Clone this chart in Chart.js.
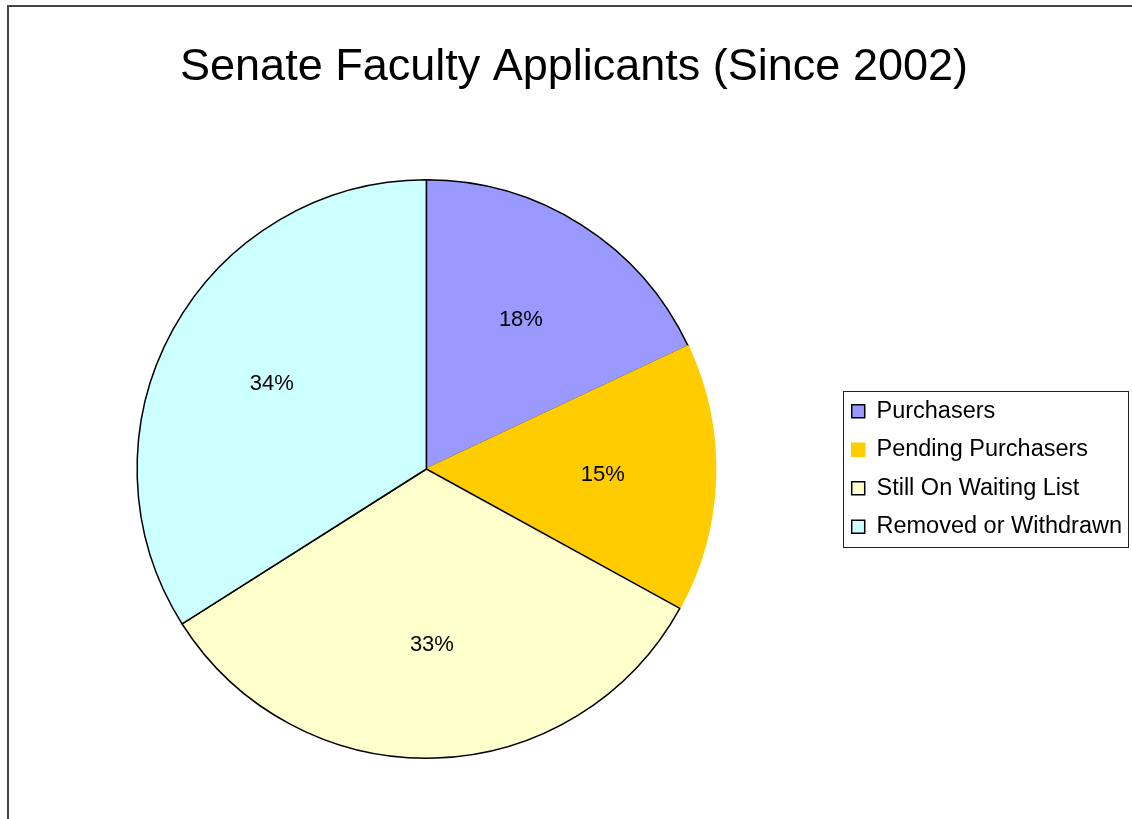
<!DOCTYPE html>
<html>
<head>
<meta charset="utf-8">
<title>Senate Faculty Applicants</title>
<script src="https://cdn.jsdelivr.net/npm/chart.js@4.4.1/dist/chart.umd.min.js"></script>
<style>
  html, body { margin: 0; padding: 0; background: #fff; }
  canvas { display: block; }
</style>
</head>
<body>
<canvas id="pieChart" width="1132" height="819"></canvas>
<script>
const categories = ['Purchasers', 'Pending Purchasers', 'Still On Waiting List', 'Removed or Withdrawn'];
const shares = [18, 15, 33, 34];
const sliceColors = ['#9999FF', '#FFCC00', '#FFFFCC', '#CCFFFF'];
// the pending slice is drawn without an outline
const sliceBorders = ['#000000', '#FFCC00', '#000000', '#000000'];

const FONT = '"Liberation Sans", Arial, sans-serif';

// thin frame along the top and left edge of the chart sheet
const sheetFrame = {
    id: 'sheetFrame',
    beforeDraw(chart) {
        const ctx = chart.ctx;
        ctx.save();
        ctx.strokeStyle = '#444';
        ctx.lineWidth = 2;
        ctx.beginPath();
        ctx.moveTo(8, chart.height);
        ctx.lineTo(8, 6);
        ctx.lineTo(chart.width, 6);
        ctx.stroke();
        ctx.restore();
    }
};

// box round the legend entries
const legendBox = {
    id: 'legendBox',
    afterDraw(chart) {
        const boxes = chart.legend.legendHitBoxes;
        if (!boxes || !boxes.length) return;
        let left = Infinity, top = Infinity, right = -Infinity, bottom = -Infinity;
        boxes.forEach(b => {
            left = Math.min(left, b.left);
            top = Math.min(top, b.top);
            right = Math.max(right, b.left + b.width);
            bottom = Math.max(bottom, b.top + b.height);
        });
        const ctx = chart.ctx;
        ctx.save();
        ctx.strokeStyle = '#222';
        ctx.lineWidth = 1;
        ctx.strokeRect(Math.round(left - 9) + 0.5, Math.round(top - 9) + 0.5,
            Math.round(right - left + 15), Math.round(bottom - top + 17));
        ctx.restore();
    }
};

// percentage text inside each slice
const sliceLabels = {
    id: 'sliceLabels',
    afterDatasetsDraw(chart) {
        const ctx = chart.ctx;
        const meta = chart.getDatasetMeta(0);
        const values = chart.data.datasets[0].data;
        ctx.save();
        ctx.font = '22px ' + FONT;
        ctx.fillStyle = '#000';
        ctx.textAlign = 'center';
        ctx.textBaseline = 'middle';
        meta.data.forEach((arc, i) => {
            const p = arc.getProps(['x', 'y', 'startAngle', 'endAngle', 'outerRadius'], true);
            const mid = (p.startAngle + p.endAngle) / 2;
            const r = p.outerRadius * 0.61;
            ctx.fillText(values[i] + '%', p.x + Math.cos(mid) * r, p.y + Math.sin(mid) * r);
        });
        ctx.restore();
    }
};

const ctx = document.getElementById('pieChart').getContext('2d');

new Chart(ctx, {
    type: 'pie',
    data: {
        labels: categories,
        datasets: [{
            data: shares,
            backgroundColor: sliceColors,
            borderColor: sliceBorders,
            borderWidth: 1.5
        }]
    },
    options: {
        responsive: false,
        animation: false,
        layout: { padding: { left: 16, right: 0, top: 0, bottom: 60 } },
        plugins: {
            title: {
                display: true,
                text: 'Senate Faculty Applicants (Since 2002)',
                color: '#000',
                font: { family: FONT, size: 45, weight: 'normal' },
                padding: { top: 41, bottom: 84 }
            },
            legend: {
                position: 'right',
                fullSize: false,
                labels: {
                    color: '#000',
                    font: { family: FONT, size: 23.5 },
                    boxWidth: 13,
                    boxHeight: 13,
                    padding: 15
                }
            },
            tooltip: { enabled: false }
        }
    },
    plugins: [sheetFrame, legendBox, sliceLabels]
});
</script>
</body>
</html>
